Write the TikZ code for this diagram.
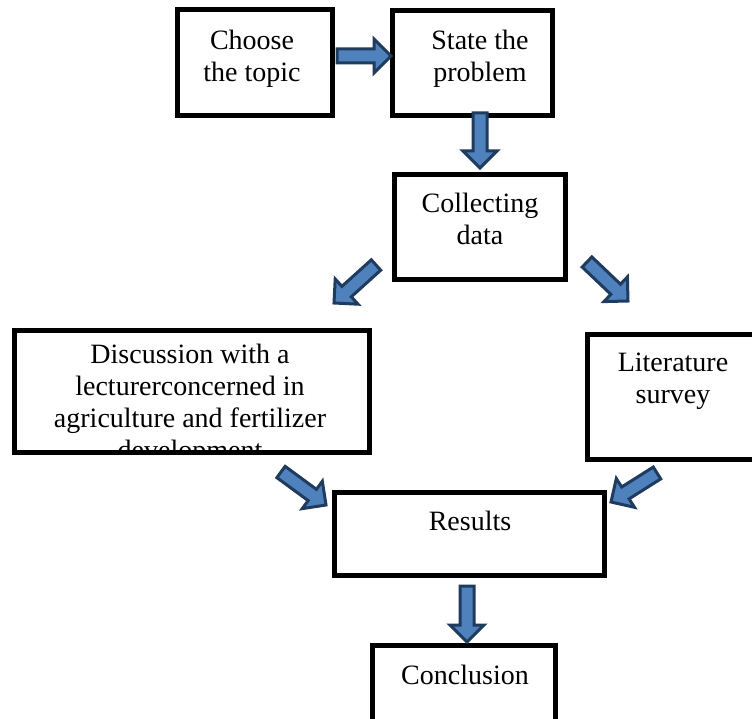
\documentclass[tikz,border=0pt]{standalone}
\usepackage{fontspec}
\setmainfont{Liberation Serif}
\usetikzlibrary{calc}
\definecolor{arrowfill}{HTML}{4F81BD}
\definecolor{arrowline}{HTML}{1F3B5E}
\tikzset{
  flowbox/.style={draw=black,line width=5pt,inner sep=0pt},
  flowtext/.style={anchor=north,align=center,inner sep=0pt,font=\fontsize{28}{32}\selectfont},
  blockarrow/.style={fill=arrowfill,draw=arrowline,line width=3pt,line join=miter,
    to path={let \p1=($(\tikztotarget)-(\tikztostart)$),
      \n1={atan2(\y1,\x1)},\n2={veclen(\x1,\y1)-17pt} in
      ($(\tikztostart)+(\n1+90:7pt)$)
      -- ($(\tikztostart)+(\n1:\n2)+(\n1+90:7pt)$)
      -- ($(\tikztostart)+(\n1:\n2)+(\n1+90:17pt)$)
      -- (\tikztotarget)
      -- ($(\tikztostart)+(\n1:\n2)+(\n1-90:17pt)$)
      -- ($(\tikztostart)+(\n1:\n2)+(\n1-90:7pt)$)
      -- ($(\tikztostart)+(\n1-90:7pt)$) -- cycle}}
}
\begin{document}
\begin{tikzpicture}[x=1pt,y=-1pt,line cap=butt,line join=miter]
  \useasboundingbox (0,0) rectangle (752,719);
  \clip (0,0) rectangle (752,719);
  \node[flowbox,minimum width=155pt,minimum height=106pt] (choose) at (255,62.5) {};
  \node[flowbox,minimum width=160pt,minimum height=105pt] (state) at (472.5,63) {};
  \node[flowbox,minimum width=171pt,minimum height=105pt] (collect) at (480,227) {};
  \node[flowbox,minimum width=355pt,minimum height=122pt] (discuss) at (192,391.5) {};
  \node[flowbox,minimum width=171pt,minimum height=125pt] (survey) at (673,397) {};
  \node[flowbox,minimum width=270pt,minimum height=83pt] (results) at (469.5,534) {};
  \node[flowbox,minimum width=183pt,minimum height=109pt] (concl) at (464,700) {};
  \node[flowtext] (choose-t) at (252,30) {Choose\\the topic};
  \node[flowtext] (state-t) at (480,30) {State the\\problem};
  \node[flowtext] (collect-t) at (480,193) {Collecting\\data};
  \begin{scope}
    \clip (17,333) rectangle (367,450);
    \node[flowtext] (discuss-t) at (190,344) {Discussion with a\\lecturerconcerned in\\agriculture and fertilizer\\development};
  \end{scope}
  \node[flowtext] (survey-t) at (673,353) {Literature\\survey};
  \node[flowtext] (results-t) at (470,511) {Results};
  \node[flowtext] (concl-t) at (465,665) {Conclusion};
  \coordinate (a1s) at (337,56);  \coordinate (a1e) at (391,56);
  \coordinate (a2s) at (480,113); \coordinate (a2e) at (480,168);
  \coordinate (a3s) at (376,265); \coordinate (a3e) at (334,303);
  \coordinate (a4s) at (587,262); \coordinate (a4e) at (628,301);
  \coordinate (a5s) at (281,472); \coordinate (a5e) at (326,505);
  \coordinate (a6s) at (657,473); \coordinate (a6e) at (611,502);
  \coordinate (a7s) at (467,586); \coordinate (a7e) at (467,642);
  \foreach \s/\e in {a1s/a1e,a2s/a2e,a3s/a3e,a4s/a4e,a5s/a5e,a6s/a6e,a7s/a7e}
    \draw[blockarrow] (\s) to (\e);
\end{tikzpicture}
\end{document}
